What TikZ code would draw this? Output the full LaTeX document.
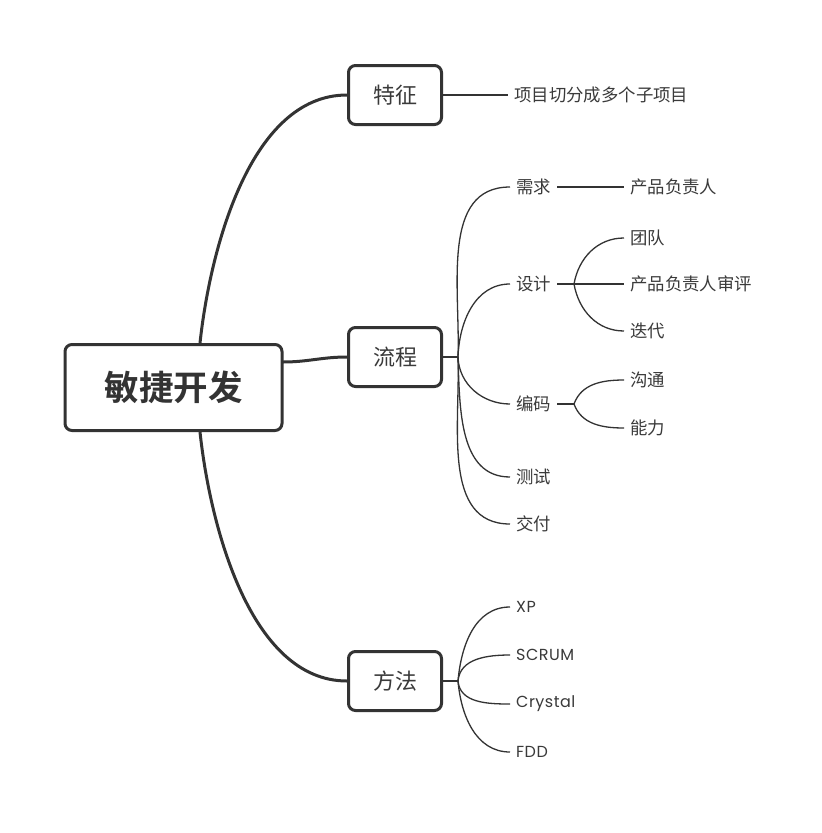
\documentclass[tikz,border=0pt]{standalone}
\usepackage{fontspec}
\newfontfamily\cjk{Noto Sans CJK SC}[BoldFont={Noto Sans CJK SC Bold}]
\newfontfamily\latin{Poppins}[LetterSpace=3]
\definecolor{ink}{HTML}{333333}
\definecolor{txt}{HTML}{3A3A3A}
\tikzset{
  mainbox/.style={draw=ink, line width=3pt, rounded corners=7pt, fill=white, minimum width=217pt, minimum height=86pt, font=\cjk\bfseries\fontsize{34.5}{40}\selectfont, text=ink},
  topicbox/.style={draw=ink, line width=3pt, rounded corners=7pt, fill=white, minimum width=93pt, minimum height=59pt, font=\cjk\fontsize{22}{26}\selectfont, text=txt},
  leaf/.style={anchor=west, inner xsep=6pt, inner ysep=2pt, font=\cjk\fontsize{17.4}{20}\selectfont, text=txt},
  lleaf/.style={anchor=west, inner xsep=6pt, inner ysep=2pt, font=\latin\fontsize{16}{20}\selectfont, text=txt},
  thick link/.style={draw=ink, line width=3pt},
  thin link/.style={draw=ink, line width=1.3pt},
}
\begin{document}
\begin{tikzpicture}[x=1pt,y=-1pt]
\useasboundingbox[fill=white] (0,0) rectangle (822,833);
% main nodes
\node[mainbox] (main) at (173.5,387.5) {敏捷开发};
\node[topicbox] (tz) at (395,95) {特征};
\node[topicbox] (lc) at (395,357) {流程};
\node[topicbox] (ff) at (395,681) {方法};
\coordinate (mtop) at (200,343);
\coordinate (mbot) at (200,432);
\coordinate (mright) at (283,362);
% main connectors
\draw[thick link] (mtop) .. controls (210,250) and (250,95) .. (tz.west);
\draw[thick link] (mbot) .. controls (210,525) and (250,681) .. (ff.west);
\draw[thick link] (mright) to[out=0,in=180] (lc.west);

% 特征
\node[leaf] (t1) at (508,95) {项目切分成多个子项目};
\draw[thin link] (tz.east) -- (t1.west);

% 流程
\coordinate (lhub) at (458,357);
\draw[thin link] (lc.east) -- (lhub);
\node[leaf] (xq) at (510,187) {需求};
\node[leaf] (sj) at (510,284) {设计};
\node[leaf] (bm) at (510,404) {编码};
\node[leaf] (cs) at (510,477) {测试};
\node[leaf] (jf) at (510,524) {交付};
\foreach \n in {xq,sj}{\draw[thin link] (lhub) to[out=88,in=180] (\n.west);}
\foreach \n in {bm,cs,jf}{\draw[thin link] (lhub) to[out=-88,in=180] (\n.west);}

\node[leaf] (cp) at (624,187) {产品负责人};
\draw[thin link] (xq.east) -- (cp.west);

\coordinate (shub) at (574,284);
\node[leaf] (td) at (624,238) {团队};
\node[leaf] (ps) at (624,284) {产品负责人审评};
\node[leaf] (dd) at (624,331) {迭代};
\draw[thin link, line width=2pt] (sj.east) -- (shub);
\draw[thin link] (shub) to[out=80,in=180] (td.west);
\draw[thin link] (shub) -- (ps.west);
\draw[thin link] (shub) to[out=-80,in=180] (dd.west);

\coordinate (bhub) at (574,404);
\node[leaf] (gt) at (624,380) {沟通};
\node[leaf] (nl) at (624,428) {能力};
\draw[thin link, line width=2pt] (bm.east) -- (bhub);
\draw[thin link] (bhub) to[out=70,in=180] (gt.west);
\draw[thin link] (bhub) to[out=-70,in=180] (nl.west);

% 方法
\coordinate (fhub) at (458,681);
\draw[thin link] (ff.east) -- (fhub);
\node[lleaf] (xp) at (510,607) {XP};
\node[lleaf] (sc) at (510,655) {SCRUM};
\node[lleaf] (cr) at (510,704) {Crystal};
\node[lleaf] (fd) at (510,752) {FDD};
\foreach \n in {xp,sc}{\draw[thin link] (fhub) to[out=85,in=180] (\n.west);}
\foreach \n in {cr,fd}{\draw[thin link] (fhub) to[out=-85,in=180] (\n.west);}
\end{tikzpicture}
\end{document}
